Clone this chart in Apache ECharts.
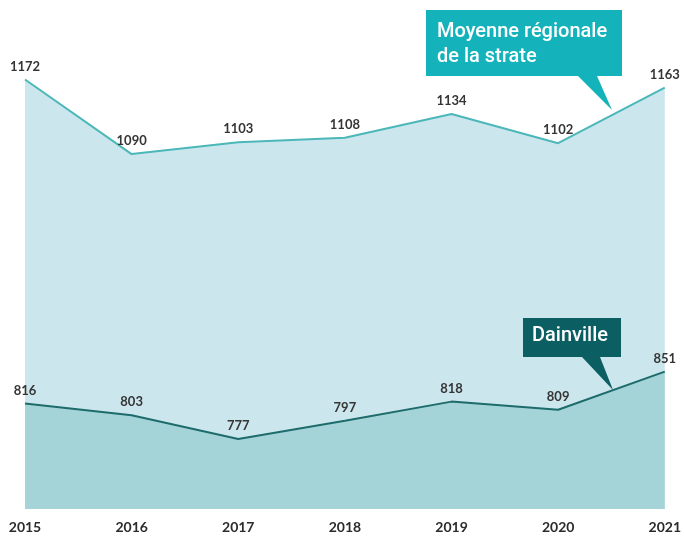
<!DOCTYPE html>
<html>
<head>
<meta charset="utf-8">
<script src="https://cdn.jsdelivr.net/npm/echarts@6/dist/echarts.min.js"></script>
<style>
  html, body { margin: 0; padding: 0; background: #fff; }
  #chart { width: 684px; height: 536px; }
</style>
</head>
<body>
<div id="chart"></div>
<script>
  const years = ["2015", "2016", "2017", "2018", "2019", "2020", "2021"];
  const moyenneStrate = [1172, 1090, 1103, 1108, 1134, 1102, 1163];
  const dainville = [816, 803, 777, 797, 818, 809, 851];

  const chart = echarts.init(document.getElementById("chart"));

  const labelStyle = {
    show: true,
    position: "top",
    distance: 6,
    color: "#353535",
    fontFamily: "Lato",
    fontSize: 13,
    fontWeight: "bold",
    opacity: 1
  };

  chart.setOption({
    animation: false,
    grid: { left: 25, right: 17, top: 54, bottom: 27 },
    xAxis: {
      type: "category",
      data: years,
      boundaryGap: false,
      axisLine: { show: false },
      axisTick: { show: false },
      axisLabel: {
        color: "#2b2b2b",
        fontFamily: "Lato",
        fontWeight: "bold",
        fontSize: 14,
        margin: 11,
        align: "center"
      }
    },
    yAxis: {
      type: "value",
      min: 700,
      max: 1200,
      show: false,
      splitLine: { show: false }
    },
    series: [
      {
        name: "Moyenne régionale de la strate",
        type: "line",
        data: moyenneStrate,
        symbol: "circle",
        symbolSize: 1,
        showSymbol: true,
        itemStyle: { color: "rgba(0,0,0,0)", borderWidth: 0 },
        lineStyle: { color: "#4bb7b9", width: 2 },
        areaStyle: { color: "#cbe7ed", opacity: 1 },
        label: labelStyle,
        z: 2
      },
      {
        name: "Dainville",
        type: "line",
        data: dainville,
        symbol: "circle",
        symbolSize: 1,
        showSymbol: true,
        itemStyle: { color: "rgba(0,0,0,0)", borderWidth: 0 },
        lineStyle: { color: "#1e6b6c", width: 2 },
        areaStyle: { color: "#a4d4d7", opacity: 1 },
        label: labelStyle,
        z: 3
      }
    ],
    graphic: [
      {
        type: "polygon",
        z: 10,
        shape: { points: [[426, 10], [622, 10], [622, 76], [597, 76], [612, 110], [578, 76], [426, 76]] },
        style: { fill: "#14b2ba" }
      },
      {
        type: "text",
        z: 11,
        left: 437,
        top: 19,
        style: {
          text: "Moyenne régionale\nde la strate",
          fill: "#ffffff",
          font: "500 20px Roboto",
          lineHeight: 25
        }
      },
      {
        type: "polygon",
        z: 10,
        shape: { points: [[523, 318], [621, 318], [621, 357], [600, 357], [613, 390], [582, 357], [523, 357]] },
        style: { fill: "#0b5f63" }
      },
      {
        type: "text",
        z: 11,
        left: 532,
        top: 326,
        style: {
          text: "Dainville",
          fill: "#ffffff",
          font: "500 20px Roboto"
        }
      }
    ]
  });
</script>
</body>
</html>
